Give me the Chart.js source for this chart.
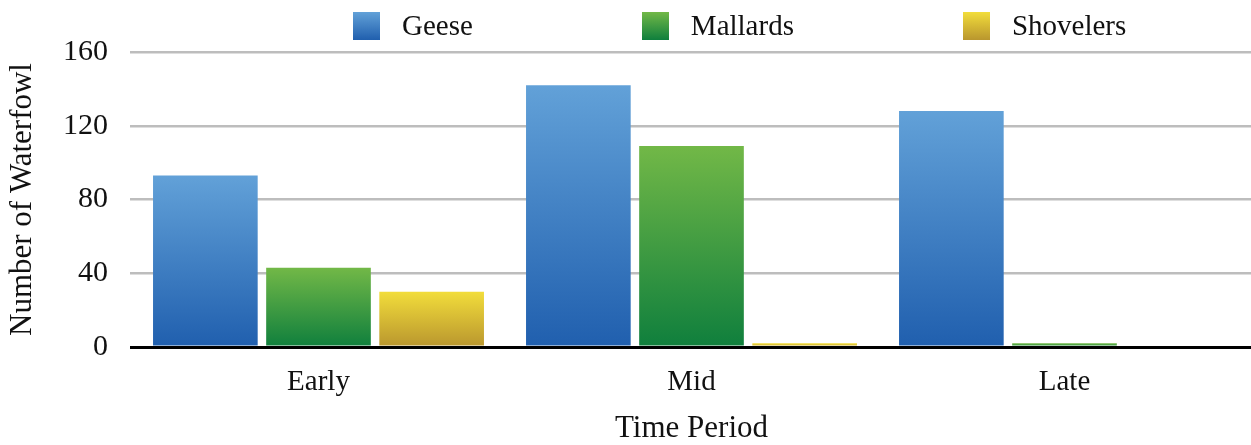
<!DOCTYPE html>
<html>
<head>
<meta charset="utf-8">
<script src="https://cdn.jsdelivr.net/npm/chart.js@4"></script>
<style>
  body { margin: 0; background: #fff; }
  #wrap { position: relative; width: 1251px; height: 445px; }
  #legend {
    position: absolute; top: 9px; left: 353px;
    display: flex; align-items: center;
    font-family: "Liberation Serif", "Times New Roman", serif;
    font-size: 29px; color: #111;
  }
  .item { display: flex; align-items: center; margin-right: 169px; }
  .item:last-child { margin-right: 0; }
  .box { width: 27px; height: 28px; margin-right: 22px; }
</style>
</head>
<body>
<div id="wrap">
  <canvas id="chart"></canvas>
  <div id="legend"></div>
</div>
<script>
// time periods on the x axis
let periods = ['Early', 'Mid', 'Late'];

// counts
let geese = [93, 142, 128];
let mallards = [43, 109, 2];
let shovelers = [30, 2, 0];

let yTicks = [0, 40, 80, 120, 160];

// top / bottom colours of each bar gradient
let seriesNames = ['Geese', 'Mallards', 'Shovelers'];
let topColors = ['#62a1d8', '#72b847', '#f2dd3b'];
let bottomColors = ['#205fae', '#0f7f3d', '#b9962e'];

let serif = '"Liberation Serif", "Times New Roman", serif';

// vertical gradient over the height of each bar
function barFill(i) {
    return function(c) {
        let chart = c.chart;
        if (!chart.chartArea || !c.parsed) return bottomColors[i];
        let y = chart.scales.y;
        let y0 = y.getPixelForValue(c.parsed.y);
        let y1 = y.getPixelForValue(0);
        if (y1 - y0 < 1) return topColors[i];
        let g = chart.ctx.createLinearGradient(0, y0, 0, y1);
        g.addColorStop(0, topColors[i]);
        g.addColorStop(1, bottomColors[i]);
        return g;
    };
}

// html legend
let legend = document.getElementById('legend');
seriesNames.forEach((name, i) => {
    let item = document.createElement('div');
    item.className = 'item';
    let box = document.createElement('div');
    box.className = 'box';
    box.style.background = 'linear-gradient(' + topColors[i] + ', ' + bottomColors[i] + ')';
    let label = document.createElement('span');
    label.textContent = name;
    item.appendChild(box);
    item.appendChild(label);
    legend.appendChild(item);
});

let allSeries = [geese, mallards, shovelers];

new Chart(document.getElementById('chart').getContext('2d'),
{
    type: 'bar',
    data:
    {
        labels: periods,
        datasets: allSeries.map((d, i) => ({
            label: seriesNames[i],
            data: d,
            backgroundColor: barFill(i),
            borderWidth: 0,
            categoryPercentage: 0.91,
            barPercentage: 0.925
        }))
    },
    options:
    {
        responsive: true,
        maintainAspectRatio: false,
        animation: false,
        layout: { padding: { top: 52, right: 0, bottom: 0, left: 0 } },
        plugins:
        {
            legend: { display: false },
            tooltip: { enabled: false }
        },
        scales:
        {
            x:
            {
                grid: { display: false },
                border: { display: false },
                ticks: { color: '#111', font: { family: serif, size: 29 }, padding: 10 },
                title:
                {
                    display: true,
                    text: 'Time Period',
                    color: '#111',
                    font: { family: serif, size: 31, lineHeight: 1 },
                    padding: { top: 0, bottom: 1 }
                },
                afterFit: s => { s.height = 98; }
            },
            y:
            {
                min: 0,
                max: 160,
                afterBuildTicks: s => { s.ticks = yTicks.map(v => ({ value: v })); },
                border: { display: false },
                grid:
                {
                    color: c => c.tick && c.tick.value === 0 ? '#000' : '#bdbdbd',
                    lineWidth: c => c.tick && c.tick.value === 0 ? 3 : 2.5,
                    drawTicks: true,
                    tickLength: 2
                },
                ticks: { color: '#111', font: { family: serif, size: 30 }, padding: 22 },
                title:
                {
                    display: true,
                    text: 'Number of Waterfowl',
                    color: '#111',
                    font: { family: serif, size: 31, lineHeight: 1 },
                    padding: { top: 7, bottom: 0 }
                },
                afterFit: s => { s.width = 132; }
            }
        }
    }
});
</script>
</body>
</html>
